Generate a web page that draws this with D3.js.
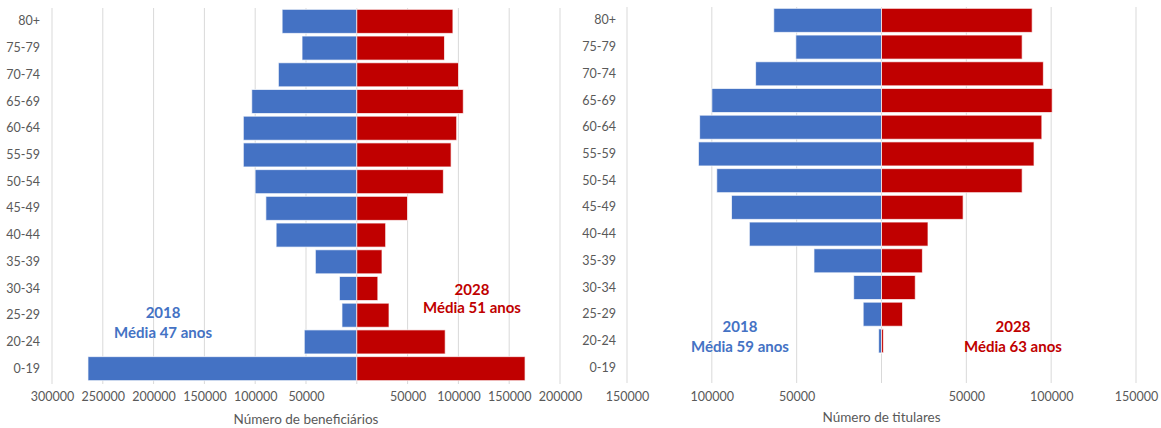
<!DOCTYPE html>
<html><head><meta charset="utf-8">
<script src="https://cdn.jsdelivr.net/npm/d3@7"></script>
<style>body{margin:0;background:#fff}svg{display:block}text{font-family:Lato,"Open Sans",sans-serif}</style>
</head><body>
<svg id="c" width="1161" height="428"></svg>
<script>
const categories = ["0-19","20-24","25-29","30-34","35-39","40-44","45-49","50-54","55-59","60-64","65-69","70-74","75-79","80+"];
const benef2018 = [264600,51700,14600,17100,40800,79400,89500,100100,111700,111700,103400,77200,53900,73500];
const benef2028 = [165600,87000,31700,20700,24800,28400,49900,85200,92800,98300,104800,100100,86300,94600];
const titul2018 = [0,1700,10800,16400,39800,77900,88400,97100,107900,107200,100000,74200,50500,63500];
const titul2028 = [0,1100,12400,19900,24100,27400,48100,82900,89900,94500,100600,95400,82900,88800];
const leftTicks = [-300000,-250000,-200000,-150000,-100000,-50000,0,50000,100000,150000,200000];
const rightTicks = [-150000,-100000,-50000,0,50000,100000,150000];
const leftTitle = "Número de beneficiários";
const rightTitle = "Número de titulares";
const leftNotes = [{t:"2018",x:-190700,row:"25-29",shift:-0.13,c:"#4472C4"},{t:"Média 47 anos",x:-190700,row:"25-29",shift:0.63,c:"#4472C4"},
                   {t:"2028",x:113400,row:"30-34",shift:0,c:"#C00000"},{t:"Média 51 anos",x:113400,row:"30-34",shift:0.69,c:"#C00000"}];
const rightNotes = [{t:"2018",x:-83400,row:"20-24",shift:-0.56,c:"#4472C4"},{t:"Média 59 anos",x:-83400,row:"20-24",shift:0.19,c:"#4472C4"},
                    {t:"2028",x:77500,row:"20-24",shift:-0.56,c:"#C00000"},{t:"Média 63 anos",x:77500,row:"20-24",shift:0.19,c:"#C00000"}];

const svg = d3.select("#c");
const fmt = v => v === 0 ? "" : String(Math.abs(v));

function pyramid(o){
  const x = d3.scaleLinear().domain(o.domain).range(o.xr);
  const y = d3.scaleBand().domain(categories.slice().reverse()).range(o.yr).paddingInner(0.1).paddingOuter(0.05);
  const g = svg.append("g");
  g.selectAll("line.grid").data(o.ticks).join("line")
    .attr("x1",d=>x(d)).attr("x2",d=>x(d)).attr("y1",o.yr[0]).attr("y2",o.yr[1]+2)
    .attr("stroke","#d9d9d9").attr("stroke-width",1);
  const data = categories.map((c,i)=>({c,a:o.a[i],b:o.b[i]}));
  g.selectAll("rect.a").data(data).join("rect")
    .attr("x",d=>x(-d.a)).attr("width",d=>Math.max(0,x(0)-x(-d.a)))
    .attr("y",d=>y(d.c)).attr("height",y.bandwidth())
    .attr("fill","#4472C4").attr("stroke","#fff").attr("stroke-opacity",0.7).attr("stroke-width",1)
    .style("display",d=>d.a>0?null:"none");
  g.selectAll("rect.b").data(data).join("rect")
    .attr("x",x(0)).attr("width",d=>Math.max(0,x(d.b)-x(0)))
    .attr("y",d=>y(d.c)).attr("height",y.bandwidth())
    .attr("fill","#C00000").attr("stroke","#fff").attr("stroke-opacity",0.7).attr("stroke-width",1)
    .style("display",d=>d.b>0?null:"none");
  const ya = d3.axisLeft(y).tickSize(0).tickPadding(0);
  const yg = g.append("g").attr("transform",`translate(${o.labelX},0)`).call(ya);
  yg.select(".domain").remove();
  yg.selectAll("text").attr("fill","#595959").style("font-size","12.5px").style("font-family","Lato, 'Open Sans', sans-serif");
  const xa = d3.axisBottom(x).tickValues(o.ticks).tickFormat(fmt).tickSize(0).tickPadding(0);
  const xg = g.append("g").attr("transform",`translate(0,${o.tickY})`).call(xa);
  xg.select(".domain").remove();
  xg.selectAll("text").attr("fill","#595959").attr("dy","0.35em").style("font-size","12.5px").style("font-family","Lato, 'Open Sans', sans-serif");
  g.append("text").attr("x",(o.xr[0]+o.xr[1])/2).attr("y",o.titleY).attr("text-anchor","middle")
    .attr("fill","#595959").style("font-size","13.5px").text(o.title);
  g.selectAll("text.note").data(o.notes).join("text")
    .attr("x",d=>x(d.x)).attr("y",d=>y(d.row)+y.bandwidth()/2 + d.shift*y.step())
    .attr("text-anchor","middle").attr("dominant-baseline","central")
    .attr("fill",d=>d.c).style("font-weight","bold").style("font-size","15px").text(d=>d.t);
}

pyramid({domain:[-300000,200000],xr:[52,560],yr:[8,382],ticks:leftTicks,a:benef2018,b:benef2028,
  labelX:40,tickY:397,titleY:424,title:leftTitle,notes:leftNotes});
pyramid({domain:[-150000,150000],xr:[627,1136],yr:[7,381],ticks:rightTicks,a:titul2018,b:titul2028,
  labelX:616,tickY:397,titleY:422,title:rightTitle,notes:rightNotes});
</script>
</body></html>
